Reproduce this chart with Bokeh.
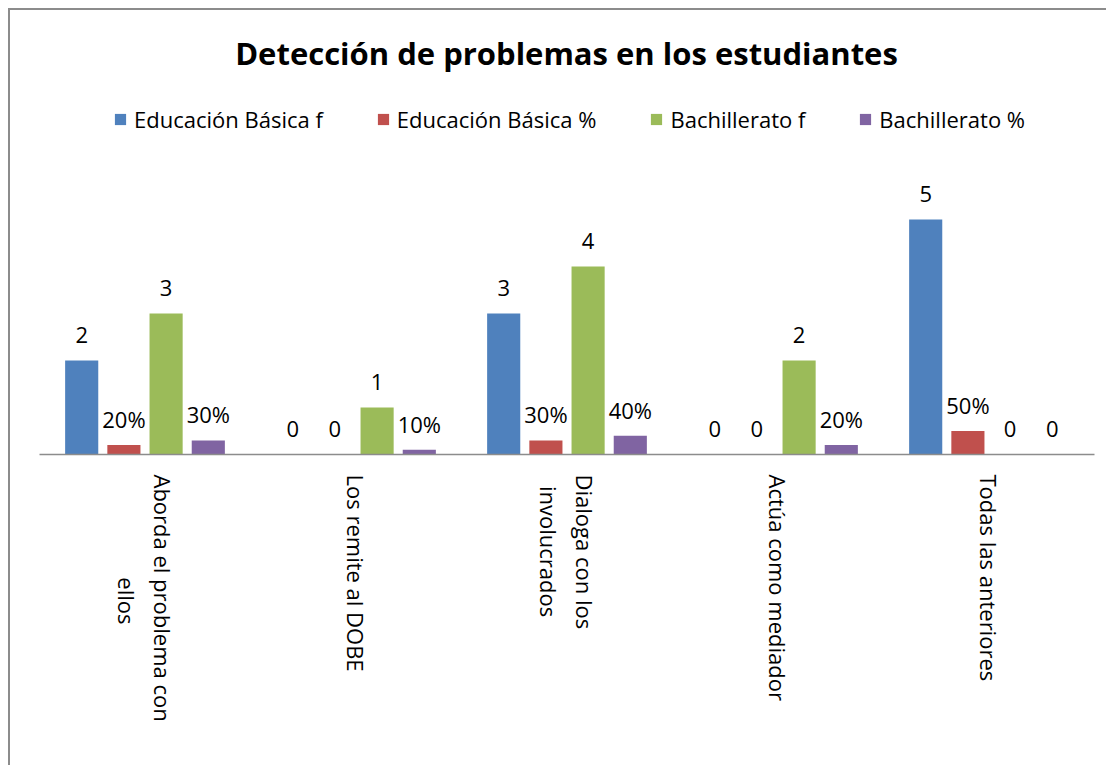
import math
from bokeh.plotting import figure
from bokeh.models import FactorRange, Range1d, Label, ColumnDataSource
from bokeh.transform import dodge
from bokeh.core.properties import value
from bokeh.embed import file_html
from bokeh.resources import INLINE

NB = "\u00a0"

# ---- data ----
categories = [
    "Aborda el problema con\n" + NB * 18 + "ellos",
    "Los remite al DOBE",
    "Dialoga con los\n" + NB * 2 + "involucrados",
    "Actúa como mediador",
    "Todas las anteriores",
]
series_names = ["Educación Básica f", "Educación Básica %", "Bachillerato f", "Bachillerato %"]
ed_basica_f = [2, 0, 3, 0, 5]
ed_basica_pct = [0.20, 0.0, 0.30, 0.0, 0.50]
bachillerato_f = [3, 1, 4, 2, 0]
bachillerato_pct = [0.30, 0.10, 0.40, 0.20, 0.0]

colors = ["#4F81BD", "#C0504D", "#9BBB59", "#8064A2"]
offsets = [-0.3, -0.1, 0.1, 0.3]
FONT = "Open Sans"

def fmt_f(v):
    return str(v)

def fmt_pct(v):
    return f"{int(round(v * 100))}%" if v > 0 else "0"

series_values = [ed_basica_f, ed_basica_pct, bachillerato_f, bachillerato_pct]
series_fmt = [fmt_f, fmt_pct, fmt_f, fmt_pct]

PX_PER_UNIT = 47
FRAME_H = 444
W, H = 1098, 757

p = figure(
    x_range=FactorRange(*categories, range_padding=0),
    y_range=Range1d(0, FRAME_H / PX_PER_UNIT),
    width=W, height=H,
    output_backend="svg", toolbar_location=None,
    y_axis_type=None,
    min_border_left=29, min_border_right=14, min_border_top=0, min_border_bottom=H - FRAME_H,
)
p.styles = {"margin-left": "8px", "margin-top": "8px",
            "border-left": "2px solid #8c8c8c", "border-top": "2px solid #8c8c8c"}
p.outline_line_color = None
p.xgrid.visible = False
p.background_fill_color = "white"
p.border_fill_color = "white"

for name, vals, fmt, col, off in zip(series_names, series_values, series_fmt, colors, offsets):
    src = ColumnDataSource(dict(cat=categories, val=vals, lab=[fmt(v) for v in vals]))
    p.vbar(x=dodge("cat", off, range=p.x_range), top="val", width=0.157, source=src,
           fill_color=col, line_color=None, legend_label=name)
    p.text(x=dodge("cat", off, range=p.x_range), y="val", text="lab", source=src,
           text_font=value(FONT), text_font_size="22px", text_color="black",
           text_align="center", text_baseline="alphabetic", y_offset=-26)

ax = p.xaxis[0]
ax.major_label_orientation = -math.pi / 2
ax.major_label_text_font = FONT
ax.major_label_text_font_size = "22px"
ax.major_label_text_color = "black"
ax.major_label_text_line_height = 1.2
ax.major_label_standoff = 20
ax.major_tick_out = 0
ax.major_tick_in = 0
ax.minor_tick_out = 0
ax.axis_line_color = "#8c8c8c"
ax.axis_line_width = 1.5

title = Label(x=527, y=FRAME_H - 42, x_units="screen", y_units="screen",
              text="Detección de problemas en los estudiantes",
              text_font=FONT, text_font_style="bold", text_font_size="31px",
              text_align="center", text_baseline="alphabetic", text_color="black")
p.add_layout(title)

lg = p.legend[0]
lg.orientation = "horizontal"
lg.location = (74, FRAME_H - 124)
lg.padding = 0
lg.margin = 0
lg.spacing = 53
lg.border_line_color = None
lg.background_fill_alpha = 0
lg.glyph_width = 14
lg.glyph_height = 14
lg.label_standoff = 7
lg.label_height = 22
lg.label_text_font = FONT
lg.label_text_font_size = "22px"
lg.label_text_color = "black"

open("out.html", "w").write(file_html(p, INLINE))
